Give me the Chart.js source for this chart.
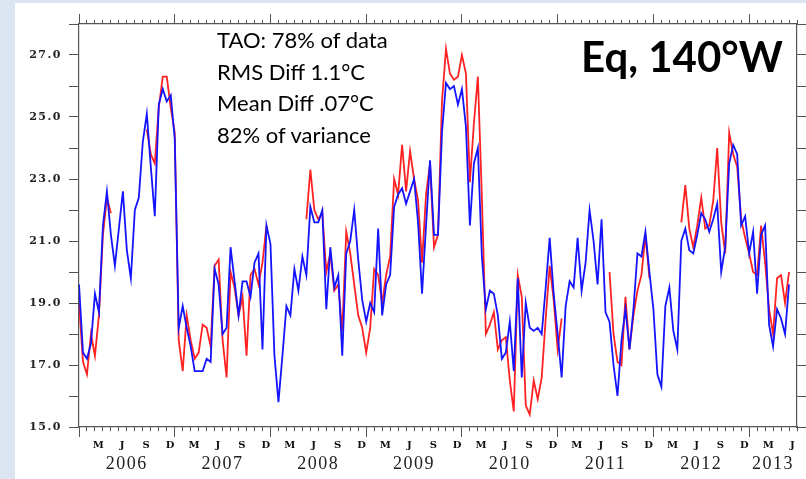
<!DOCTYPE html>
<html lang="es">
<head>
<meta charset="utf-8">
<title>Eq, 140°W</title>
<script src="https://cdn.jsdelivr.net/npm/chart.js@4.4.1/dist/chart.umd.min.js"></script>
<style>
    html, body { margin: 0; padding: 0; }
    body { width: 806px; height: 479px; background: #dbe5f1; position: relative; overflow: hidden; }
    #panel { position: absolute; left: 15px; top: 3px; right: 0; bottom: 0; background: #fff; }
    #grafico { position: absolute; left: 0; top: 0; }
    .notas { position: absolute; left: 217px; top: 24px; font-family: Lato, sans-serif; font-size: 22px; line-height: 31.5px; color: #000; white-space: nowrap; }
    .titulo { position: absolute; left: 581px; top: 35px; font-family: Lato, sans-serif; font-weight: bold; font-size: 42px; line-height: 42px; color: #000; white-space: nowrap; }
</style>
</head>
<body>
<div id="panel"></div>
<canvas id="grafico" width="806" height="479"></canvas>
<div class="notas">TAO: 78% of data<br>RMS Diff 1.1°C<br>Mean Diff .07°C<br>82% of variance</div>
<div class="titulo">Eq, 140°W</div>

<script>
// Datos: temperatura (°C), un valor cada medio mes desde enero de 2006
const anioInicio = 2006;
const pasosPorAnio = 24;

// Serie azul (estimación, sin huecos)
const tempEstimada = [
    19.6, 17.4, 17.2, 17.7, 19.3, 18.7, 21.5, 22.6, 21.2, 20.2, 21.4, 22.6,
    20.7, 19.8, 22.0, 22.4, 24.2, 25.1, 23.4, 21.8, 25.4, 25.9, 25.5, 25.7,
    24.3, 18.2, 18.9, 18.2, 17.6, 16.8, 16.8, 16.8, 17.2, 17.1, 20.1, 19.6,
    18.0, 18.2, 20.8, 19.7, 18.6, 19.7, 19.7, 19.2, 20.3, 20.6, 17.5, 21.5,
    20.9, 17.3, 15.8, 17.3, 18.9, 18.6, 20.1, 19.4, 20.5, 19.9, 22.1, 21.6,
    21.6, 22.0, 18.8, 20.8, 19.5, 19.9, 17.3, 20.6, 21.0, 22.0, 20.4, 19.1,
    18.4, 19.0, 18.7, 21.4, 18.6, 19.6, 19.9, 22.1, 22.5, 22.7, 22.2, 22.6,
    23.0, 21.6, 19.3, 21.5, 23.6, 21.2, 21.2, 24.5, 26.1, 25.9, 26.0, 25.4,
    25.9, 24.7, 21.5, 23.5, 24.0, 20.5, 18.8, 19.4, 19.3, 18.6, 17.2, 17.4,
    18.4, 16.8, 19.8, 16.6, 19.0, 18.2, 18.1, 18.2, 18.0, 19.5, 21.1, 19.3,
    18.0, 16.6, 18.9, 19.7, 19.5, 21.1, 19.4, 20.3, 22.0, 21.0, 19.6, 21.7,
    18.7, 18.4, 17.0, 16.0, 17.8, 18.8, 17.5, 18.8, 20.6, 20.5, 21.3, 20.0,
    18.8, 16.7, 16.3, 18.9, 19.5, 18.1, 17.5, 21.0, 21.4, 20.7, 20.6, 21.2,
    21.9, 21.7, 21.3, 21.7, 22.2, 20.0, 20.8, 23.5, 24.1, 23.8, 21.5, 21.8,
    20.6, 21.3, 19.3, 21.2, 21.5, 18.3, 17.6, 18.8, 18.5, 18.0, 19.6
];

// Serie roja (boya TAO), null = sin dato
const tempTAO = [
    19.0, 17.1, 16.7, 18.0, 17.3, 18.6, 21.2, 22.4, 21.9, null, null, null,
    null, null, null, null, null, 24.6, 23.8, 23.5, 25.3, 26.3, 26.3, 25.3,
    24.5, 17.8, 16.8, 18.6, 17.8, 17.2, 17.4, 18.3, 18.2, 17.6, 20.2, 20.4,
    17.8, 16.6, 20.0, 19.5, 18.6, 19.2, 17.3, 19.9, 20.1, 19.6, 20.3, 21.5,
    null, null, null, null, null, null, null, null, null, 21.7, 23.3, 22.0,
    21.7, 21.9, 20.0, 20.6, 19.4, 19.6, 18.1, 21.3, 20.6, 19.6, 18.6, 18.2,
    17.4, 18.2, 20.1, 19.9, 19.0, 19.9, 20.5, 23.0, 22.5, 24.1, 22.6, 23.9,
    23.0, 22.3, 20.3, 22.5, 23.5, 20.8, 21.2, 25.5, 27.2, 26.4, 26.2, 26.3,
    27.0, 26.4, 22.9, 24.8, 26.3, 22.4, 18.0, 18.3, 18.7, 17.5, 17.8, 17.9,
    16.5, 15.5, 19.9, 19.2, 15.7, 15.4, 16.5, 15.9, 16.6, 18.5, 20.2, 19.1,
    17.5, 18.5, null, null, null, null, null, null, null, null, null, null,
    null, 20.0, 18.0, 17.1, 17.0, 19.2, 17.5, 18.6, 19.4, 19.9, 21.2, 19.8,
    null, null, null, null, null, null, null, 21.6, 22.8, 21.4, 20.8, 21.5,
    22.4, 21.4, 21.5, 22.3, 24.0, 21.6, 20.6, 24.5, 23.8, 23.4, 21.7, 21.1,
    20.6, 20.0, 19.9, 21.5, 20.3, 18.8, 18.0, 19.8, 19.9, 19.0, 20.0
];

// Ejes
const ejeXMin = 2006;
const ejeXMax = 2013.5;
const ejeYMin = 15;
const ejeYMax = 28;
const letrasMes = ['M', 'J', 'S', 'D'];
const mesesConLetra = [2, 5, 8, 11];   // marzo, junio, septiembre, diciembre
const anios = ['2006', '2007', '2008', '2009', '2010', '2011', '2012', '2013'];
const posicionAnio = [2006.5, 2007.5, 2008.5, 2009.5, 2010.5, 2011.5, 2012.5, 2013.25];

// Marcas mensuales (las de enero son las largas)
const ticksMes = [];
for (let m = 0; m <= (ejeXMax - ejeXMin) * 12; m++) {
    ticksMes.push({ value: ejeXMin + m / 12 });
}

// Letras a mitad de mes
const ticksLetra = [];
const textosLetra = [];
for (let a = anioInicio; a < ejeXMax; a++) {
    mesesConLetra.forEach((m, k) => {
        const v = a + (m + 0.5) / 12;
        if (v < ejeXMax) {
            ticksLetra.push({ value: v });
            textosLetra.push(letrasMes[k]);
        }
    });
}

const puntos = serie => serie.map((v, i) => ({ x: anioInicio + i / pasosPorAnio, y: v }));

const esEnero = ctx => ctx.tick && Math.abs(ctx.tick.value - Math.round(ctx.tick.value)) < 1e-6;

const colorEje = '#555';
const fuenteSerif = 'DejaVu Serif';

// Espaciado de letras de las etiquetas (el original usa una fuente ancha)
const espaciado = {
    id: 'espaciado',
    beforeDraw(chart) {
        chart.ctx.letterSpacing = '1.5px';
    }
};

new Chart(document.getElementById('grafico'), {
    type: 'line',
    data: {
        datasets: [
            {
                label: 'Estimación',
                data: puntos(tempEstimada),
                borderColor: '#1414ff',
                borderWidth: 1.8,
                pointRadius: 0,
                tension: 0,
                xAxisID: 'x',
                yAxisID: 'y'
            },
            {
                label: 'TAO',
                data: puntos(tempTAO),
                borderColor: '#ff2222',
                borderWidth: 1.8,
                pointRadius: 0,
                tension: 0,
                spanGaps: false,
                xAxisID: 'x',
                yAxisID: 'y'
            }
        ]
    },
    options: {
        responsive: false,
        animation: false,
        events: [],
        layout: { padding: 0 },
        plugins: {
            legend: { display: false },
            tooltip: { enabled: false }
        },
        scales: {
            x: {
                type: 'linear',
                position: 'bottom',
                weight: 1,
                min: ejeXMin,
                max: ejeXMax,
                afterBuildTicks: scale => { scale.ticks = ticksMes.map(t => ({ ...t })); },
                afterFit: scale => { scale.height = 10; },
                ticks: { display: false },
                grid: {
                    drawOnChartArea: false,
                    tickLength: 10,
                    tickColor: colorEje,
                    tickWidth: 1,
                    tickBorderDash: ctx => esEnero(ctx) ? [] : [4, 100]
                },
                border: { color: colorEje, width: 1.2 }
            },
            meses: {
                type: 'linear',
                position: 'bottom',
                weight: 2,
                min: ejeXMin,
                max: ejeXMax,
                afterBuildTicks: scale => { scale.ticks = ticksLetra.map(t => ({ ...t })); },
                afterFit: scale => { scale.height = 16; },
                ticks: {
                    autoSkip: false,
                    maxRotation: 0,
                    minRotation: 0,
                    padding: 2,
                    color: '#111',
                    font: { family: fuenteSerif, size: 10, weight: 'bold' },
                    callback: (v, i) => textosLetra[i]
                },
                grid: { display: false, drawTicks: false, tickLength: 0 },
                border: { display: false }
            },
            anios: {
                type: 'linear',
                position: 'bottom',
                weight: 3,
                min: ejeXMin,
                max: ejeXMax,
                afterBuildTicks: scale => { scale.ticks = posicionAnio.map(v => ({ value: v })); },
                afterFit: scale => { scale.height = 26; },
                ticks: {
                    autoSkip: false,
                    maxRotation: 0,
                    minRotation: 0,
                    padding: 0,
                    color: '#222',
                    font: { family: 'Liberation Serif', size: 18 },
                    callback: (v, i) => anios[i]
                },
                grid: { display: false, drawTicks: false, tickLength: 0 },
                border: { display: false }
            },
            x2: {
                type: 'linear',
                position: 'top',
                min: ejeXMin,
                max: ejeXMax,
                afterBuildTicks: scale => { scale.ticks = ticksMes.map(t => ({ ...t })); },
                afterFit: scale => { scale.height = 24; },
                ticks: { display: false },
                grid: {
                    drawOnChartArea: false,
                    tickLength: 10,
                    tickColor: colorEje,
                    tickWidth: 1,
                    tickBorderDash: ctx => esEnero(ctx) ? [] : [0, 6, 4, 100]
                },
                border: { color: colorEje, width: 1.2 }
            },
            y: {
                type: 'linear',
                position: 'left',
                min: ejeYMin,
                max: ejeYMax,
                afterFit: scale => { scale.width = 79; },
                ticks: {
                    stepSize: 1,
                    padding: 7,
                    color: '#222',
                    font: { family: fuenteSerif, size: 11, weight: 'bold' },
                    callback: v => (v % 2 === 1 ? v.toFixed(1) : '')
                },
                grid: {
                    drawOnChartArea: false,
                    tickLength: 10,
                    tickColor: colorEje,
                    tickWidth: 1
                },
                border: { color: colorEje, width: 1.2 }
            },
            y2: {
                type: 'linear',
                position: 'right',
                min: ejeYMin,
                max: ejeYMax,
                afterFit: scale => { scale.width = 9; },
                ticks: { stepSize: 1, display: false },
                grid: {
                    drawOnChartArea: false,
                    tickLength: 10,
                    tickColor: colorEje,
                    tickWidth: 1
                },
                border: { color: colorEje, width: 1.2 }
            }
        }
    },
    plugins: [espaciado]
});
</script>
</body>
</html>
